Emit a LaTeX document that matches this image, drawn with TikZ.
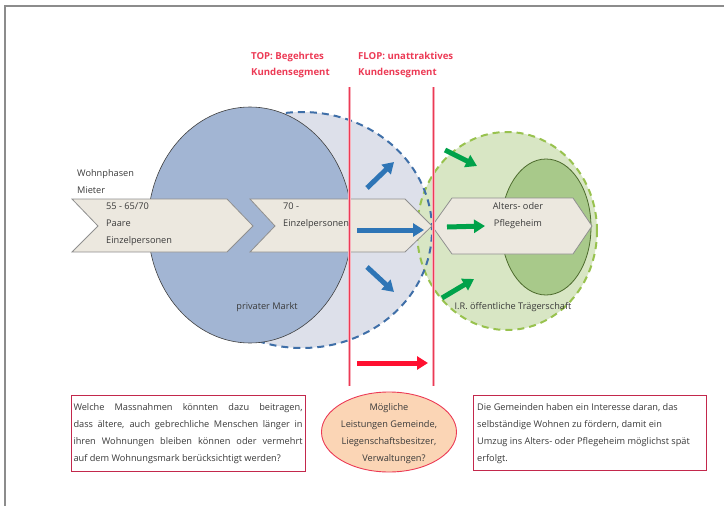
\documentclass[tikz,border=0pt]{standalone}
\usepackage{fontspec}
\setmainfont{Open Sans}
\usetikzlibrary{shapes.geometric,arrows.meta,calc}
\definecolor{framegray}{HTML}{8C8C8C}
\definecolor{txtgray}{HTML}{3A3A3A}
\definecolor{marktblue}{HTML}{A2B5D3}
\definecolor{topfill}{HTML}{DDE0EA}
\definecolor{topline}{HTML}{3F6FA8}
\definecolor{flopfill}{HTML}{D8E6C4}
\definecolor{flopline}{HTML}{98C24E}
\definecolor{heimfill}{HTML}{A8C98A}
\definecolor{heimline}{HTML}{4C6A2C}
\definecolor{chevfill}{HTML}{ECE8DF}
\definecolor{chevline}{HTML}{8F8F8F}
\definecolor{segred}{HTML}{EC3A55}
\definecolor{pfeilblau}{HTML}{2E75B6}
\definecolor{pfeilgruen}{HTML}{00A24A}
\definecolor{pfeilrot}{HTML}{FF1030}
\definecolor{boxred}{HTML}{C3284C}
\definecolor{peach}{HTML}{FBD5B5}
\tikzset{
  txt/.style={font=\fontsize{9.2}{17}\selectfont,text=txtgray,inner sep=0pt,align=left},
  titel/.style={font=\fontsize{9.6}{16}\selectfont\bfseries,text=segred,inner sep=0pt,align=left},
  chev/.style={draw=chevline,fill=chevfill,line width=0.8pt},
  zone/.style={ellipse,line width=2pt,dash pattern=on 7pt off 5pt},
  pfeil/.style={line width=5pt,-{Triangle[length=11pt,width=13pt]}},
  frage/.style={draw=boxred,line width=0.9pt,fill=white,inner sep=0pt}
}
\begin{document}
\begin{tikzpicture}[x=1pt, y=-1pt]
\useasboundingbox (0,0) rectangle (724,506);
\draw[framegray, line width=1.5pt] (5,506) -- (5,6) -- (724,6);

% Kundensegmente
\node[zone, fill=topfill, minimum width=260pt, minimum height=236pt] (top) at (302,230) {};
\node[zone, fill=flopfill, draw=flopline, minimum width=180pt, minimum height=198pt] (flop) at (507,231) {};
\node[zone, draw=topline, minimum width=260pt, minimum height=236pt] (toprand) at (302,230) {};
\node[ellipse, draw=black!75, fill=marktblue, line width=0.6pt,
      minimum width=204pt, minimum height=236pt] (markt) at (250,225) {};
\node[ellipse, draw=heimline, fill=heimfill, line width=0.8pt,
      minimum width=90pt, minimum height=136pt] (heim) at (546,227) {};

% Wohnphasen
\draw[chev] (72,199) -- (227,199) -- (253,226) -- (227,252) -- (72,252) -- (98,226) -- cycle;
\draw[chev] (250,199) -- (405,199) -- (432,226) -- (405,252) -- (250,252) -- (275,226) -- cycle;
\draw[chev] (432,226) -- (452,198) -- (573,198) -- (592,226) -- (573,254) -- (452,254) -- cycle;

% Grenzen
\coordinate (topoben) at (349,87);
\coordinate (topunten) at (349,386);
\coordinate (flopoben) at (433,87);
\coordinate (flopunten) at (433,386);
\draw[segred!40, line width=3pt] (topoben) -- (topunten);
\draw[segred, line width=1pt] (topoben) -- (topunten);
\draw[segred!40, line width=3pt] (flopoben) -- (flopunten);
\draw[segred, line width=1pt] (flopoben) -- (flopunten);

\node[titel, anchor=west] (toptitel) at (251,65) {TOP: Begehrtes\\Kundensegment};
\node[titel, anchor=west] (floptitel) at (358,65) {FLOP: unattraktives\\Kundensegment};

% Texte
\node[txt, anchor=west] (phasen) at (77,182) {Wohnphasen\\Mieter};
\node[txt, anchor=west] (paare) at (106,224) {55 - 65/70\\Paare\\Einzelpersonen};
\node[txt, anchor=west] (einzel) at (283,216) {70 -\\Einzelpersonen};
\node[txt, align=center] (pflege) at (518,216) {Alters- oder\\Pflegeheim};
\node[txt] (privat) at (267,307) {privater Markt};
\node[txt] (oeff) at (513,307) {I.R. öffentliche Trägerschaft};

% Pfeile
\coordinate (b1) at (367,188);
\coordinate (b1e) at (394,162);
\coordinate (b2) at (357,230);
\coordinate (b2e) at (424,230);
\coordinate (b3) at (367,267);
\coordinate (b3e) at (394,292);
\coordinate (g1) at (445,150);
\coordinate (g1e) at (477,166);
\coordinate (g2) at (447,227);
\coordinate (g2e) at (485,226);
\coordinate (g3) at (442,298);
\coordinate (g3e) at (474,279);
\coordinate (r1) at (357,363);
\coordinate (r1e) at (428,363);
\draw[pfeil, pfeilblau] (b1) -- (b1e);
\draw[pfeil, pfeilblau] (b2) -- (b2e);
\draw[pfeil, pfeilblau] (b3) -- (b3e);
\draw[pfeil, pfeilgruen] (g1) -- (g1e);
\draw[pfeil, pfeilgruen] (g2) -- (g2e);
\draw[pfeil, pfeilgruen] (g3) -- (g3e);
\draw[pfeil, pfeilrot] (r1) -- (r1e);

% Fragen
\node[frage, minimum width=234pt, minimum height=76pt] (linksbox) at (188,433) {};
\node[txt, text width=229pt, align=justify] (linkstxt) at (188,434)
  {Welche Massnahmen könnten dazu beitragen,\linebreak dass ältere, auch gebrechliche Menschen länger in\linebreak ihren Wohnungen bleiben können oder vermehrt\linebreak auf dem Wohnungsmark berücksichtigt werden?};
\node[ellipse, draw=segred, fill=peach, line width=0.9pt,
      minimum width=135pt, minimum height=80pt] (leistung) at (389,432) {};
\node[txt, align=center] (leisttxt) at (389,434) {Mögliche\\Leistungen Gemeinde,\\Liegenschaftsbesitzer,\\\hspace*{10pt}Verwaltungen?};
\node[frage, minimum width=233pt, minimum height=75pt] (rechtsbox) at (589.5,432.5) {};
\node[txt, anchor=west] (rechtstxt) at (477,434) {Die Gemeinden haben ein Interesse daran, das\\selbständige Wohnen zu fördern, damit ein\\Umzug ins Alters- oder Pflegeheim möglichst spät\\erfolgt.};
\end{tikzpicture}
\end{document}
